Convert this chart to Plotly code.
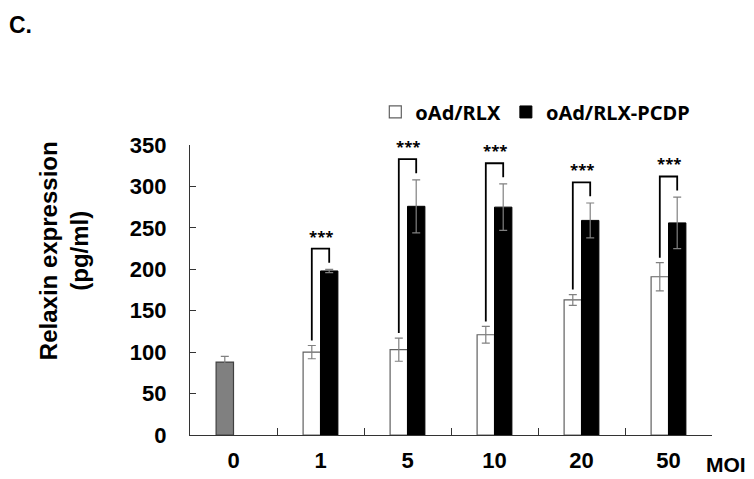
import plotly.graph_objects as go

# MOI categories
moi = ["0", "1", "5", "10", "20", "50"]

# control (MOI 0) bar
ctrl_val = [88]
ctrl_err = [7]

# oAd/RLX
rlx_val = [None, 100, 103, 121, 163, 191]
rlx_err = [None, 8, 14, 10, 6.5, 17]

# oAd/RLX-PCDP
pcdp_val = [None, 198, 276, 275, 259, 256]
pcdp_err = [None, 2, 32, 28, 21, 31]

# significance labels for MOI 1..50
sig = ["***", "***", "***", "***", "***"]

bold = dict(family="Liberation Sans, Arial", size=22, color="black", weight="bold")

fig = go.Figure()

fig.add_trace(go.Bar(
    x=moi[:1], y=ctrl_val, offsetgroup="a", showlegend=False,
    marker=dict(color="#808080", line=dict(color="#404040", width=1.2)),
    error_y=dict(type="data", array=ctrl_err, color="#808080", thickness=1.2, width=4),
))
fig.add_trace(go.Bar(
    x=moi, y=rlx_val, offsetgroup="a", name="<b>oAd/RLX</b>",
    marker=dict(color="white", line=dict(color="#606060", width=1.2)),
    error_y=dict(type="data", array=rlx_err, color="#808080", thickness=1.2, width=4),
))
fig.add_trace(go.Bar(
    x=moi, y=pcdp_val, offsetgroup="b", name="<b>oAd/RLX-PCDP</b>",
    marker=dict(color="black", line=dict(color="black", width=1)),
    error_y=dict(type="data", array=pcdp_err, color="#808080", thickness=1.2, width=4),
))

# significance brackets, drawn from the bar tops + error
for i in range(1, len(moi)):
    left = rlx_val[i] + rlx_err[i] + 6
    right = pcdp_val[i] + pcdp_err[i] + 8
    top = pcdp_val[i] + pcdp_err[i] + 25
    xl, xr = i - 0.1, i + 0.1
    fig.add_shape(type="path", xref="x", yref="y",
                  path=f"M {xl},{left} L {xl},{top} L {xr},{top} L {xr},{right}",
                  line=dict(color="black", width=1.8))
    fig.add_annotation(x=i, y=top, xref="x", yref="y", text=sig[i - 1], showarrow=False,
                       yanchor="bottom", yshift=1,
                       font=dict(family="Noto Sans", size=15, color="black", weight="bold"))

# the page body has an 8px margin, so the figure is 8px smaller and margins shifted
fig.add_annotation(x=0.0, y=1.0, xref="paper", yref="paper", xshift=-183, yshift=135,
                   text="<b>C.</b>", showarrow=False, xanchor="left", yanchor="top",
                   font=dict(family="Liberation Sans, Arial", size=23, color="black",
                             weight="bold"))
fig.add_annotation(x=0, y=0.634, xref="paper", yref="paper", xshift=-126,
                   xanchor="center", yanchor="middle",
                   text="<b>Relaxin expression<br>(pg/ml)</b>", textangle=-90, showarrow=False,
                   font=dict(family="Liberation Sans, Arial", size=24, color="black"))
fig.add_annotation(x=1.0, y=0, xref="paper", yref="paper", xshift=-8, yshift=-29,
                   text="<b>MOI</b>", showarrow=False, xanchor="left", yanchor="middle",
                   font=dict(family="Liberation Sans, Arial", size=21, color="black"))

fig.update_layout(
    width=746, height=471,
    margin=dict(l=182, r=42, t=137, b=44),
    paper_bgcolor="white", plot_bgcolor="white",
    barmode="group", bargap=0.6, bargroupgap=0,
    legend=dict(orientation="h", x=0.355, y=1.114, xanchor="left", yanchor="middle",
                font=dict(family="Noto Sans", size=20, color="black"),
                bgcolor="rgba(0,0,0,0)"),
    xaxis=dict(type="category", showline=True, linecolor="#333", linewidth=1.2,
               ticks="inside", tickson="boundaries", ticklen=7, tickcolor="#333",
               tickfont=bold, ticklabelstandoff=5, showgrid=False, zeroline=False,
               automargin=False),
    yaxis=dict(range=[0, 350], dtick=50, showline=True, linecolor="#333", linewidth=1.2,
               ticks="inside", ticklen=6, tickcolor="#333", tickfont=bold,
               ticklabelstandoff=18, showgrid=False, zeroline=False, automargin=False),
)

fig.write_html("out.html")
